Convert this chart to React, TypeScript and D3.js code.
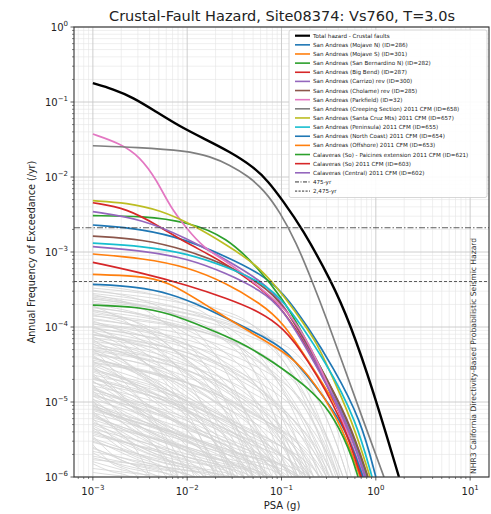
import React from "react";
import * as d3 from "d3";

// ---------- data ----------
const TITLE = "Crustal-Fault Hazard, Site08374: Vs760, T=3.0s";
const X_LABEL = "PSA (g)";
const Y_LABEL = "Annual Frequency of Exceedance (/yr)";
const SIDE_NOTE = "NHR3 California Directivity-Based Probabilistic Seismic Hazard";

const PSA_DOMAIN: [number, number] = [Math.pow(10, -3.2), Math.pow(10, 1.2)];
const RATE_DOMAIN: [number, number] = [1e-6, 1];
const X_TICK_EXP = [-3, -2, -1, 0, 1];
const Y_TICK_EXP = [-6, -5, -4, -3, -2, -1, 0];

// [PSA (g), annual rate]
const TOTAL = [[0.001,0.178],[0.00165,0.148],[0.00269,0.114],[0.00438,0.0782],[0.0084,0.0469],[0.0148,0.0328],[0.0284,0.0217],[0.0502,0.0137],[0.072,0.00885],[0.1038,0.00479],[0.164,0.00211],[0.341,4.02e-4],[0.533,1.12e-4],[0.935,1.45e-5],[1.76,1e-6]];
const MOJAVE_N = [[0.001,2.29e-3],[0.00343,2.03e-3],[0.0099,1.45e-3],[0.0262,8.65e-4],[0.0592,5.2e-4],[0.104,2.93e-4],[0.191,1.0e-4],[0.352,2.93e-5],[0.697,5.75e-6],[1.0,1e-6]];
const MOJAVE_S = [[0.001,9.4e-4],[0.00343,8.24e-4],[0.0099,6.37e-4],[0.0262,3.83e-4],[0.0592,2.07e-4],[0.104,1.17e-4],[0.211,2.93e-5],[0.483,5.75e-6],[0.788,1e-6]];
const SAN_BERNARDINO_N = [[0.001,3.05e-3],[0.00343,3.02e-3],[0.0099,2.54e-3],[0.0262,1.6e-3],[0.0592,5.75e-4],[0.104,2.29e-4],[0.146,1.13e-4],[0.257,2.93e-5],[0.508,5.75e-6],[0.807,1e-6]];
const BIG_BEND = [[0.001,4.54e-3],[0.00229,3.83e-3],[0.00515,2.17e-3],[0.0099,1.31e-3],[0.0223,7.82e-4],[0.0592,3.45e-4],[0.104,1.69e-4],[0.201,4.93e-5],[0.46,5.75e-6],[0.715,1e-6]];
const CARRIZO = [[0.001,3.45e-3],[0.00343,2.73e-3],[0.0099,1.52e-3],[0.0262,7.82e-4],[0.0592,4.24e-4],[0.104,2.16e-4],[0.227,3.63e-5],[0.495,5.75e-6],[0.788,1e-6]];
const CHOLAME = [[0.001,1.63e-3],[0.00343,1.48e-3],[0.0099,1.06e-3],[0.0262,6.71e-4],[0.0592,3.83e-4],[0.104,2.09e-4],[0.244,3.41e-5],[0.52,5.75e-6],[0.828,1e-6]];
const PARKFIELD = [[0.001,0.0374],[0.00194,0.0281],[0.00316,0.0187],[0.00475,0.00912],[0.00658,0.00402],[0.00973,0.00211],[0.0148,0.00113],[0.0284,7.13e-4],[0.0637,3.11e-4],[0.123,1.54e-4],[0.201,5.75e-5],[0.37,1.06e-5],[0.75,1e-6]];
const CREEPING = [[0.001,0.0261],[0.00292,0.0249],[0.0099,0.0224],[0.0175,0.0188],[0.0284,0.01445],[0.0442,0.0103],[0.0653,0.00671],[0.0964,0.00341],[0.1426,0.00136],[0.209,4.24e-4],[0.304,1.24e-4],[0.453,3.11e-5],[0.732,5.75e-6],[1.22,1e-6]];
const SANTA_CRUZ = [[0.001,4.83e-3],[0.00229,4.54e-3],[0.00515,3.63e-3],[0.0116,2.29e-3],[0.0262,1.24e-3],[0.0592,6.37e-4],[0.114,2.29e-4],[0.171,1.12e-4],[0.237,6.07e-5],[0.304,3.11e-5],[0.559,5.75e-6],[0.869,1e-6]];
const PENINSULA = [[0.001,1.31e-3],[0.00343,1.2e-3],[0.0099,9.6e-4],[0.0262,6.37e-4],[0.0592,4.02e-4],[0.104,2.44e-4],[0.311,3.11e-5],[0.617,5.75e-6],[0.912,1e-6]];
const NORTH_COAST = [[0.001,3.71e-4],[0.00292,3.45e-4],[0.00658,2.81e-4],[0.0148,1.87e-4],[0.0335,1.12e-4],[0.0755,6.7e-5],[0.114,4.69e-5],[0.157,2.93e-5],[0.449,5.75e-6],[0.732,1e-6]];
const OFFSHORE = [[0.001,5.04e-4],[0.00292,4.79e-4],[0.00607,4.24e-4],[0.0189,1.69e-4],[0.0428,9.1e-5],[0.114,4.46e-5],[0.178,2.67e-5],[0.418,5.75e-6],[0.681,1e-6]];
const CALAVERAS_PAICINES = [[0.001,1.96e-4],[0.00292,1.87e-4],[0.00658,1.52e-4],[0.0148,1.01e-4],[0.0363,6.37e-5],[0.0813,3.45e-5],[0.187,1.6e-5],[0.327,7.82e-6],[0.533,2.29e-6],[0.648,1e-6]];
const CALAVERAS_SO = [[0.001,7.29e-4],[0.00343,5.2e-4],[0.0099,3.63e-4],[0.0262,2.42e-4],[0.0592,1.6e-4],[0.105,9.7e-5],[0.178,4.23e-5],[0.449,5.75e-6],[0.697,1e-6]];
const CALAVERAS_CENTRAL = [[0.001,1.18e-3],[0.00343,1.04e-3],[0.0099,8.24e-4],[0.0262,5.2e-4],[0.0592,3.11e-4],[0.104,1.79e-4],[0.216,3.63e-5],[0.483,5.75e-6],[0.769,1e-6]];

const RETURN_PERIODS = [475, 2475];
const RETURN_LABELS = ["475-yr", "2,475-yr"];

// background (other faults): [rate at 0.001 g, shoulder PSA, shoulder rate, PSA where rate reaches 1e-6]
const OTHER_FAULTS = [
  [3.3e-4,0.03,1.5e-4,0.35],[2.8e-4,0.02,1.2e-4,0.25],[2.5e-4,0.015,1.0e-4,0.18],[2.2e-4,0.04,9e-5,0.4],
  [2.0e-4,0.01,8e-5,0.12],[1.8e-4,0.025,7e-5,0.3],[1.6e-4,0.008,6e-5,0.09],[1.5e-4,0.05,5e-5,0.45],
  [1.3e-4,0.012,5e-5,0.15],[1.2e-4,0.006,4e-5,0.06],[1.1e-4,0.02,4e-5,0.22],[1.0e-4,0.004,4e-5,0.04],
  [9e-5,0.015,3e-5,0.2],[8.5e-5,0.008,3e-5,0.1],[8e-5,0.03,2.5e-5,0.3],[7.5e-5,0.005,2.5e-5,0.05],
  [7e-5,0.012,2e-5,0.13],[6.5e-5,0.02,2e-5,0.18],[6e-5,0.004,2e-5,0.03],[5.5e-5,0.01,1.8e-5,0.08],
  [5e-5,0.025,1.5e-5,0.25],[5e-5,0.006,1.5e-5,0.045],[4.5e-5,0.015,1.3e-5,0.12],[4.2e-5,0.003,1.5e-5,0.02],
  [4e-5,0.008,1.2e-5,0.07],[3.8e-5,0.02,1e-5,0.2],[3.5e-5,0.005,1e-5,0.035],[3.2e-5,0.012,9e-6,0.1],
  [3e-5,0.0035,1e-5,0.025],[2.8e-5,0.009,8e-6,0.06],[2.6e-5,0.018,7e-6,0.15],[2.4e-5,0.0025,9e-6,0.012],
  [2.2e-5,0.007,6e-6,0.05],[2e-5,0.014,6e-6,0.09],[1.9e-5,0.004,6e-6,0.025],[1.8e-5,0.025,5e-6,0.17],
  [1.6e-5,0.006,5e-6,0.04],[1.5e-5,0.01,4.5e-6,0.065],[1.4e-5,0.003,5e-6,0.018],[1.3e-5,0.008,4e-6,0.05],
  [1.2e-5,0.015,4e-6,0.1],[1.1e-5,0.0022,5e-6,0.008],[1e-5,0.005,3.5e-6,0.03],[9.5e-6,0.012,3e-6,0.08],
  [9e-6,0.0035,3.5e-6,0.015],[8.5e-6,0.007,3e-6,0.04],[8e-6,0.02,2.5e-6,0.12],[7.5e-6,0.0025,3e-6,0.01],
  [7e-6,0.005,2.5e-6,0.025],[6.5e-6,0.01,2.2e-6,0.055],[6e-6,0.0018,3e-6,0.006],[5.5e-6,0.004,2.2e-6,0.02],
  [5e-6,0.008,2e-6,0.04],[4.6e-6,0.0022,2.2e-6,0.008],[4.2e-6,0.005,1.8e-6,0.022],[3.8e-6,0.012,1.6e-6,0.05],
  [3.5e-6,0.0016,2e-6,0.004],[3.2e-6,0.003,1.7e-6,0.01],[3e-6,0.006,1.5e-6,0.025],[2.7e-6,0.0015,1.6e-6,0.003],
  [2.4e-6,0.004,1.4e-6,0.012],[2.1e-6,0.002,1.4e-6,0.005],[1.8e-6,0.003,1.3e-6,0.008],[1.5e-6,0.0015,1.2e-6,0.0025],
  [1.4e-4,0.035,6e-5,0.38],[9.5e-5,0.04,3e-5,0.35],[6.8e-5,0.0025,3e-5,0.022],[4.8e-5,0.04,1.2e-5,0.32],
  [3.6e-5,0.03,9e-6,0.25],[2.9e-5,0.0018,1.4e-5,0.01],[2.3e-5,0.035,5e-6,0.22],[1.7e-5,0.0017,8e-6,0.007],
  [1.25e-5,0.025,3e-6,0.14],[8.8e-6,0.03,2.2e-6,0.16],[6.2e-6,0.015,2e-6,0.07],[4.4e-6,0.02,1.6e-6,0.08],
  [2.6e-4,0.06,8e-5,0.5],[1.9e-4,0.003,9e-5,0.03],[1.05e-4,0.0025,5e-5,0.02],[7.8e-5,0.05,2e-5,0.4],
  [5.2e-5,0.0015,3e-5,0.008],[3.3e-5,0.05,7e-6,0.3],[2.1e-5,0.045,4e-6,0.26],[1.45e-5,0.04,3e-6,0.2],
  [1.05e-5,0.0014,6e-6,0.004],[7.2e-6,0.035,1.8e-6,0.15],[3.1e-4,0.007,1.5e-4,0.07],[2.35e-4,0.1,6e-5,0.55],
  [1.7e-4,0.0045,8e-5,0.05],[1.15e-4,0.07,2.5e-5,0.45],
  [3.6e-4,0.012,1.8e-4,0.14],[3.0e-4,0.04,1.2e-4,0.42],[2.7e-4,0.005,1.3e-4,0.05],[2.4e-4,0.02,9e-5,0.2],[2.1e-4,0.07,6e-5,0.5],
  [1.85e-4,0.015,7e-5,0.16],[1.65e-4,0.03,6e-5,0.32],[1.45e-4,0.006,6e-5,0.065],[1.25e-4,0.045,4e-5,0.4],[1.1e-4,0.009,4e-5,0.1],
  [9.8e-5,0.025,3e-5,0.27],[8.8e-5,0.003,4e-5,0.028],[7.9e-5,0.015,2.5e-5,0.15],[7.2e-5,0.035,2e-5,0.33],[6.3e-5,0.007,2e-5,0.07],
  [5.8e-5,0.018,1.8e-5,0.17],[5.3e-5,0.045,1.4e-5,0.36],[4.7e-5,0.004,1.8e-5,0.032],[4.3e-5,0.025,1.2e-5,0.22],[3.9e-5,0.011,1.1e-5,0.1],
  [3.4e-5,0.04,8e-6,0.28],[3.1e-5,0.006,1e-5,0.045],[2.7e-5,0.028,6e-6,0.2],[2.5e-5,0.012,7e-6,0.1],[2.25e-5,0.0028,9e-6,0.016],
  [2.05e-5,0.02,5e-6,0.13],[1.85e-5,0.009,5e-6,0.06],[1.65e-5,0.03,4e-6,0.18],[1.55e-5,0.0045,5e-6,0.028],[1.35e-5,0.018,4e-6,0.11],
  [1.2e-5,0.007,3.5e-6,0.045],[1.08e-5,0.03,2.5e-6,0.15],[9.2e-6,0.0045,3.5e-6,0.022],[8.2e-6,0.014,2.6e-6,0.075],[7.7e-6,0.04,2e-6,0.2],
  [6.8e-6,0.003,3e-6,0.013],[5.8e-6,0.012,2.1e-6,0.06],[5.2e-6,0.025,1.8e-6,0.11],[4.8e-6,0.0035,2.2e-6,0.014],[4e-6,0.009,1.7e-6,0.035],
  [3.6e-6,0.02,1.5e-6,0.07],[3.3e-6,0.0045,1.7e-6,0.016],[2.9e-6,0.01,1.4e-6,0.035],[2.5e-6,0.0025,1.5e-6,0.007],[2.2e-6,0.007,1.3e-6,0.02],
  [1.9e-6,0.0045,1.3e-6,0.012],[1.7e-6,0.012,1.2e-6,0.03],[1.6e-6,0.002,1.25e-6,0.004],[1.3e-6,0.003,1.1e-6,0.006],[1.15e-6,0.0018,1.05e-6,0.003]
];

const SERIES = [
  { name: "San Andreas (Mojave N) (ID=286)", data: MOJAVE_N, color: "#1f77b4" },
  { name: "San Andreas (Mojave S) (ID=301)", data: MOJAVE_S, color: "#ff7f0e" },
  { name: "San Andreas (San Bernardino N) (ID=282)", data: SAN_BERNARDINO_N, color: "#2ca02c" },
  { name: "San Andreas (Big Bend) (ID=287)", data: BIG_BEND, color: "#d62728" },
  { name: "San Andreas (Carrizo) rev (ID=300)", data: CARRIZO, color: "#9467bd" },
  { name: "San Andreas (Cholame) rev (ID=285)", data: CHOLAME, color: "#8c564b" },
  { name: "San Andreas (Parkfield) (ID=32)", data: PARKFIELD, color: "#e377c2" },
  { name: "San Andreas (Creeping Section) 2011 CFM (ID=658)", data: CREEPING, color: "#7f7f7f" },
  { name: "San Andreas (Santa Cruz Mts) 2011 CFM (ID=657)", data: SANTA_CRUZ, color: "#bcbd22" },
  { name: "San Andreas (Peninsula) 2011 CFM (ID=655)", data: PENINSULA, color: "#17becf" },
  { name: "San Andreas (North Coast) 2011 CFM (ID=654)", data: NORTH_COAST, color: "#1f77b4" },
  { name: "San Andreas (Offshore) 2011 CFM (ID=653)", data: OFFSHORE, color: "#ff7f0e" },
  { name: "Calaveras (So) - Paicines extension 2011 CFM (ID=621)", data: CALAVERAS_PAICINES, color: "#2ca02c" },
  { name: "Calaveras (So) 2011 CFM (ID=603)", data: CALAVERAS_SO, color: "#d62728" },
  { name: "Calaveras (Central) 2011 CFM (ID=602)", data: CALAVERAS_CENTRAL, color: "#9467bd" },
];

// ---------- layout ----------
const W = 491, H = 514;
const L = 74, R = 489, T = 27, B = 477;
const FONT = "DejaVu Sans, Liberation Sans, sans-serif";

export default function App() {
  const x = d3.scaleLog().domain(PSA_DOMAIN).range([L, R]);
  const y = d3.scaleLog().domain(RATE_DOMAIN).range([B, T]);
  const line = d3.line<number[]>().x(d => x(d[0])).y(d => y(d[1])).curve(d3.curveBasis);
  const greyLine = d3.line<number[]>().x(d => x(d[0])).y(d => y(d[1])).curve(d3.curveMonotoneX);

  const xMinor: number[] = [];
  for (let e = -4; e <= 1; e++) for (let k = 2; k <= 9; k++) {
    const v = k * Math.pow(10, e);
    if (v >= PSA_DOMAIN[0] && v <= PSA_DOMAIN[1]) xMinor.push(v);
  }
  const yMinor: number[] = [];
  for (let e = -6; e < 0; e++) for (let k = 2; k <= 9; k++) yMinor.push(k * Math.pow(10, e));

  const sup = (e: number) => (e < 0 ? "\u2212" + Math.abs(e) : String(e));

  const legendItems = [
    { name: "Total hazard - Crustal faults", color: "#000", w: 2.2, dash: "" },
    ...SERIES.map(s => ({ name: s.name, color: s.color, w: 1.6, dash: "" })),
    { name: RETURN_LABELS[0], color: "#333", w: 1, dash: "4 1.5 1 1.5" },
    { name: RETURN_LABELS[1], color: "#333", w: 1, dash: "2.2 1.3" },
  ];
  const LG_X = 289, LG_Y = 30, LG_W = 198, LG_ROW = 9.14;

  return (
    <svg width={W} height={H} style={{ position: "absolute", left: 0, top: 0, background: "#fff" }} fontFamily={FONT}>
      <defs>
        <clipPath id="plotclip"><rect x={L} y={T} width={R - L} height={B - T} /></clipPath>
      </defs>
      <rect x={0} y={0} width={W} height={H} fill="#fff" />
      {/* grid */}
      <g>
        {xMinor.map((v, i) => <line key={"xm" + i} x1={x(v)} x2={x(v)} y1={T} y2={B} stroke="#e4e4e4" strokeWidth={0.6} />)}
        {yMinor.map((v, i) => <line key={"ym" + i} x1={L} x2={R} y1={y(v)} y2={y(v)} stroke="#e4e4e4" strokeWidth={0.6} />)}
        {X_TICK_EXP.map(e => <line key={"xg" + e} x1={x(Math.pow(10, e))} x2={x(Math.pow(10, e))} y1={T} y2={B} stroke="#c8c8c8" strokeWidth={0.9} />)}
        {Y_TICK_EXP.map(e => <line key={"yg" + e} x1={L} x2={R} y1={y(Math.pow(10, e))} y2={y(Math.pow(10, e))} stroke="#c8c8c8" strokeWidth={0.9} />)}
      </g>
      <g clipPath="url(#plotclip)" fill="none">
        {OTHER_FAULTS.map((g, i) => (
          <path key={"o" + i} d={greyLine([[0.001, g[0]], [g[1], g[2]], [g[3], 1e-6], [g[3] * 1.15, 4e-7]]) || ""} stroke="#d3d3d3" strokeWidth={0.8} />
        ))}
        {SERIES.map((s, i) => (
          <path key={"s" + i} d={line(s.data) || ""} stroke={s.color} strokeWidth={1.7} />
        ))}
        <path d={line(TOTAL) || ""} stroke="#000" strokeWidth={2.4} />
        {RETURN_PERIODS.map((rp, i) => (
          <line key={"rp" + i} x1={L} x2={R} y1={y(1 / rp)} y2={y(1 / rp)} stroke="#333" strokeWidth={1}
            strokeDasharray={i === 0 ? "6 2 1.5 2" : "3 2"} opacity={0.8} />
        ))}
      </g>
      {/* frame */}
      <rect x={L} y={T} width={R - L} height={B - T} fill="none" stroke="#333" strokeWidth={1.1} />
      {/* ticks */}
      <g stroke="#333">
        {xMinor.map((v, i) => <line key={"xt" + i} x1={x(v)} x2={x(v)} y1={B} y2={B + 2} strokeWidth={0.6} />)}
        {X_TICK_EXP.map(e => <line key={"xT" + e} x1={x(Math.pow(10, e))} x2={x(Math.pow(10, e))} y1={B} y2={B + 3.5} strokeWidth={0.8} />)}
        {yMinor.map((v, i) => <line key={"yt" + i} x1={L - 2} x2={L} y1={y(v)} y2={y(v)} strokeWidth={0.6} />)}
        {Y_TICK_EXP.map(e => <line key={"yT" + e} x1={L - 3.5} x2={L} y1={y(Math.pow(10, e))} y2={y(Math.pow(10, e))} strokeWidth={0.8} />)}
      </g>
      <g fill="#222" fontSize={10}>
        {X_TICK_EXP.map(e => (
          <text key={"xl" + e} x={x(Math.pow(10, e))} y={495} textAnchor="middle">
            10<tspan dy={-5} fontSize={7}>{sup(e)}</tspan>
          </text>
        ))}
        {Y_TICK_EXP.map(e => (
          <text key={"yl" + e} x={68} y={y(Math.pow(10, e)) + 4} textAnchor="end">
            10<tspan dy={-5} fontSize={7}>{sup(e)}</tspan>
          </text>
        ))}
      </g>
      <text x={282} y={20.5} textAnchor="middle" fontSize={14.5} fill="#222">{TITLE}</text>
      <text x={282} y={509} textAnchor="middle" fontSize={10} fill="#222">{X_LABEL}</text>
      <text transform={`translate(35,${(T + B) / 2}) rotate(-90)`} textAnchor="middle" fontSize={9.6} fill="#222">{Y_LABEL}</text>
      <text transform={`translate(476,474) rotate(-90)`} textAnchor="start" fontSize={7.6} fill="#333">{SIDE_NOTE}</text>
      {/* legend */}
      <g>
        <rect x={LG_X} y={LG_Y} width={LG_W} height={legendItems.length * LG_ROW + 3} rx={2} fill="#fff" fillOpacity={0.9} stroke="#cccccc" strokeWidth={0.8} />
        {legendItems.map((it, i) => {
          const yy = LG_Y + 5.7 + i * LG_ROW;
          return (
            <g key={"lg" + i}>
              <line x1={LG_X + 6} x2={LG_X + 21} y1={yy} y2={yy} stroke={it.color} strokeWidth={it.w} strokeDasharray={it.dash || undefined} />
              <text x={LG_X + 24} y={yy + 2} fontSize={5.6} fill="#222">{it.name}</text>
            </g>
          );
        })}
      </g>
    </svg>
  );
}
